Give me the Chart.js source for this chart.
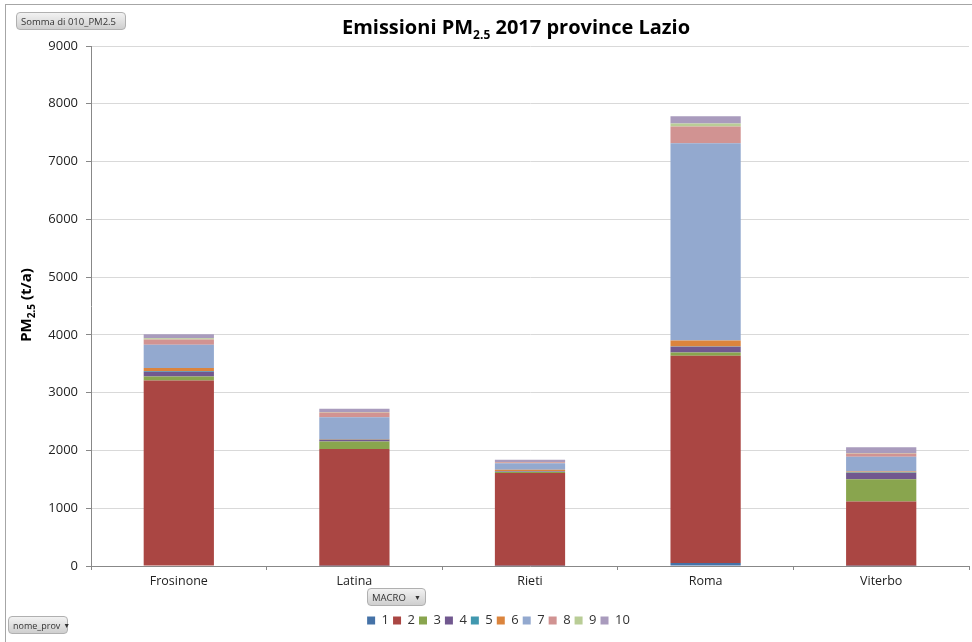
<!DOCTYPE html>
<html>
<head>
<meta charset="utf-8">
<script src="https://cdn.jsdelivr.net/npm/chart.js@4/dist/chart.umd.min.js"></script>
<style>
  html, body { margin: 0; padding: 0; background: #fff; }
  #wrap { position: relative; width: 972px; height: 642px; font-family: "Open Sans", sans-serif; }
  #frame { position: absolute; left: 5px; top: 4px; width: 980px; height: 700px; border: 1px solid #a6a6a6; box-sizing: border-box; }
  canvas { position: absolute; left: 0; top: 0; }
  #title { position: absolute; left: 0; width: 1032px; top: 13px; text-align: center; font-size: 20px; font-weight: bold; color: #000; }
  #title sub { font-size: 12px; }
  #ytitle { position: absolute; left: 26px; top: 305px; transform: translate(-50%, -50%) rotate(-90deg); white-space: nowrap; font-size: 15px; font-weight: bold; color: #000; }
  #ytitle sub { font-size: 10px; }
  .btn { position: absolute; height: 18px; line-height: 17px; font-size: 9.5px; color: #333; padding: 0 4px; border: 1px solid #b0b0b0; border-radius: 4px;
         background: linear-gradient(#f2f2f2, #cfcfcf); box-sizing: border-box; white-space: nowrap; display: flex; justify-content: space-between; }
  .btn .arr { font-size: 7px; margin-left: 3px; }
</style>
</head>
<body>
<div id="wrap">
  <canvas id="c" width="972" height="642"></canvas>
  <div id="frame"></div>
  <div id="title">Emissioni PM<sub>2.5</sub> 2017 province Lazio</div>
  <div id="ytitle">PM<sub>2.5</sub> (t/a)</div>
  <div class="btn" style="left:16px;top:12px;width:110px;"><span>Somma di 010_PM2.5</span></div>
  <div class="btn" style="left:367px;top:588px;width:59px;"><span>MACRO</span><span class="arr">&#9660;</span></div>
  <div class="btn" style="left:8px;top:616px;width:60px;font-size:9px;"><span>nome_prov</span><span class="arr">&#9660;</span></div>
</div>
<script>
const provinces = ['Frosinone', 'Latina', 'Rieti', 'Roma', 'Viterbo'];
const macroLabels = ['1', '2', '3', '4', '5', '6', '7', '8', '9', '10'];
const macroColors = ['#4572A7', '#AA4643', '#89A54E', '#71588F', '#4198AF', '#DB843D', '#93A9CF', '#D19392', '#B9CD96', '#A99BBD'];

const macro1 = [10, 5, 5, 50, 5];
const macro2 = [3200, 2020, 1605, 3590, 1110];
const macro3 = [70, 130, 15, 55, 385];
const macro4 = [80, 30, 10, 100, 110];
const macro5 = [15, 5, 5, 5, 10];
const macro6 = [50, 10, 25, 105, 15];
const macro7 = [405, 375, 115, 3410, 255];
const macro8 = [90, 80, 15, 290, 55];
const macro9 = [20, 10, 5, 55, 10];
const macro10 = [70, 55, 40, 125, 100];

const yTicks = [0, 1000, 2000, 3000, 4000, 5000, 6000, 7000, 8000, 9000];

const series = [macro1, macro2, macro3, macro4, macro5, macro6, macro7, macro8, macro9, macro10];

const datasets = series.map((vals, i) => ({
    label: macroLabels[i],
    data: vals,
    backgroundColor: macroColors[i],
    borderWidth: 0,
    barPercentage: 0.4,
    categoryPercentage: 1.0
}));

new Chart(document.getElementById('c'), {
    type: 'bar',
    data: { labels: provinces, datasets: datasets },
    options: {
        responsive: false,
        animation: false,
        // left padding 28 + y axis 63 keeps plot left at 91 and nudges legend right
        layout: { padding: { left: 28, right: 3, top: 46, bottom: 5 } },
        plugins: {
            title: { display: false },
            tooltip: { enabled: false },
            legend: {
                position: 'bottom',
                labels: {
                    boxWidth: 8,
                    boxHeight: 8,
                    padding: 4,
                    color: '#333',
                    font: { family: 'Open Sans', size: 13 }
                }
            }
        },
        scales: {
            x: {
                stacked: true,
                offset: true,
                grid: { display: true, drawOnChartArea: false, offset: true, tickLength: 4, tickColor: '#888' },
                border: { color: '#888' },
                ticks: { color: '#222', font: { family: 'Open Sans', size: 12.5 }, padding: 4 },
                afterFit: (s) => { s.height = 44; }
            },
            y: {
                stacked: true,
                min: 0,
                max: 9000,
                afterBuildTicks: (s) => { s.ticks = yTicks.map(v => ({ value: v })); },
                grid: { color: '#d9d9d9', tickLength: 5, tickColor: '#888' },
                border: { color: '#888' },
                ticks: { color: '#222', font: { family: 'Open Sans', size: 13 }, padding: 8, callback: (v) => String(v) },
                afterFit: (s) => { s.width = 63; }
            }
        }
    }
});
</script>
</body>
</html>
